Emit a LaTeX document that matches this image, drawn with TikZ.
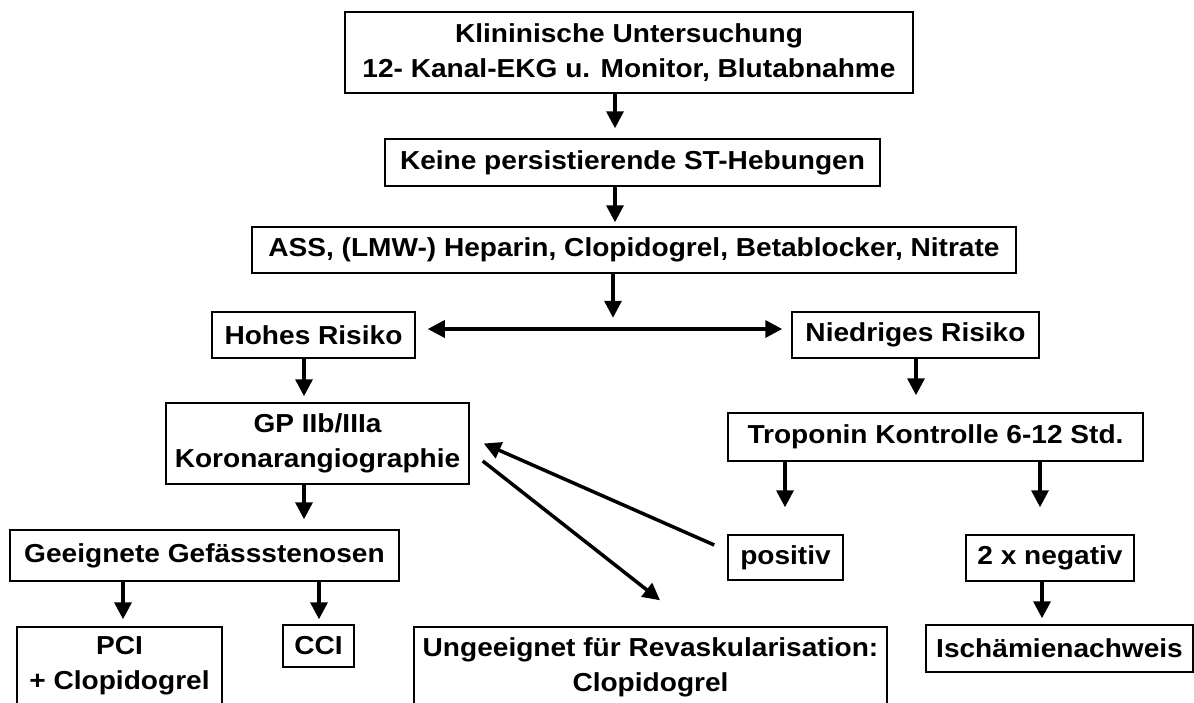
\documentclass[tikz,border=0pt]{standalone}
\usepackage{fontspec}
\setmainfont{Liberation Sans}[FakeStretch=1.08]
\usetikzlibrary{arrows.meta}
\begin{document}
\begin{tikzpicture}[x=1pt,y=-1pt,
  box/.style={draw=black,line width=1.5pt,inner sep=0pt,align=center,
    font=\bfseries\fontsize{26}{35}\selectfont},
  arr/.style={line width=3.5pt,-{Triangle[length=17pt,width=17pt]}},
  dbl/.style={line width=3.5pt,{Triangle[length=17pt,width=17pt]}-{Triangle[length=17pt,width=17pt]}}]
\clip (0,0) rectangle (1194,702);
\fill[white] (0,0) rectangle (1194,702);

\node[box,minimum width=568pt,minimum height=81pt] (top) at (629,52.5)
  {Klininische Untersuchung\\12- Kanal-EKG u. Monitor, Blutabnahme};
\node[box,minimum width=495pt,minimum height=47pt] (k2) at (632.5,162.5)
  {Keine persistierende ST-Hebungen};
\node[box,minimum width=764pt,minimum height=46pt] (k3) at (634,250)
  {ASS, (LMW-) Heparin, Clopidogrel, Betablocker, Nitrate};
\node[box,minimum width=203pt,minimum height=46pt] (hohes) at (313.5,335)
  {Hohes Risiko};
\node[box,minimum width=247pt,minimum height=46pt] (niedr) at (915.5,335)
  {Niedriges Risiko};
\node[box,minimum width=303pt,minimum height=81pt] (gp) at (317.5,443.5)
  {GP IIb/IIIa\\Koronarangiographie};
\node[box,minimum width=415pt,minimum height=48pt] (trop) at (935.5,437)
  {Troponin Kontrolle 6-12 Std.};
\node[box,minimum width=389pt,minimum height=51pt] (geeig) at (204.5,555.5)
  {Geeignete Gefässstenosen};
\node[box,minimum width=115pt,minimum height=45pt] (positiv) at (785.5,557.5)
  {positiv};
\node[box,minimum width=168pt,minimum height=46pt] (neg) at (1050,558)
  {2 x negativ};
\node[box,minimum width=205pt,minimum height=78pt] (pci) at (119.5,666)
  {PCI\\+ Clopidogrel};
\node[box,minimum width=71pt,minimum height=42pt] (cci) at (318.5,646)
  {CCI};
\node[box,minimum width=473pt,minimum height=80pt] (ungee) at (650.5,667)
  {Ungeeignet für Revaskularisation:\\Clopidogrel};
\node[box,minimum width=267pt,minimum height=47pt] (isch) at (1059.5,648.5)
  {Ischämienachweis};

\draw[arr,shorten >=10pt] (top.south -| 615,0) -- (k2.north -| 615,0);
\draw[arr,shorten >=4pt] (k2.south -| 615,0) -- (k3.north -| 615,0);
\draw[arr] (k3.south -| 613,0) -- ++(0,44);
\draw[dbl,shorten <=12pt,shorten >=9pt] (hohes.east |- 0,329) -- (niedr.west |- 0,329);
\draw[arr,shorten >=6pt] (hohes.south -| 304,0) -- (gp.north -| 304,0);
\draw[arr,shorten >=17pt] (niedr.south -| 916,0) -- (trop.north -| 916,0);
\draw[arr,shorten >=10pt] (gp.south -| 304,0) -- (geeig.north -| 304,0);
\draw[arr,shorten >=27pt] (trop.south -| 785,0) -- (positiv.north -| 785,0);
\draw[arr,shorten >=27pt] (trop.south -| 1040,0) -- (neg.north -| 1040,0);
\draw[arr,shorten >=7pt] (geeig.south -| 123,0) -- (pci.north -| 123,0);
\draw[arr,shorten >=5pt] (geeig.south -| 319,0) -- (cci.north -| 319,0);
\draw[arr,shorten >=6pt] (neg.south -| 1042,0) -- (isch.north -| 1042,0);
\draw[arr] ([shift={(-13,-12.5)}]positiv.west) -- ([shift={(14,0)}]gp.east);
\draw[arr] ([shift={(13,17.5)}]gp.east) -- ([shift={(9.5,-26)}]ungee.north);
\end{tikzpicture}
\end{document}
